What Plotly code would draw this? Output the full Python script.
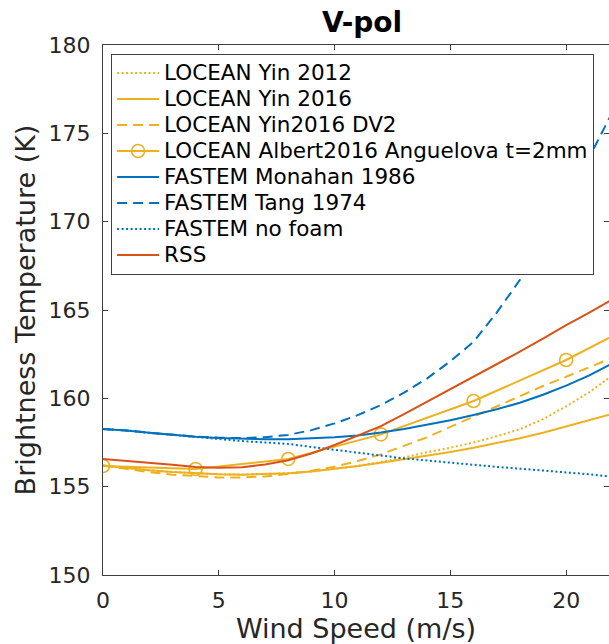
import plotly.graph_objects as go

# ---------------- data ----------------
wind = list(range(0, 23))  # m/s

yin2012 = [156.20, 156.05, 155.93, 155.83, 155.75, 155.70, 155.68, 155.70, 155.76, 155.86,
           156.00, 156.17, 156.40, 156.65, 156.95, 157.20, 157.50, 157.85, 158.25, 158.82,
           159.55, 160.35, 161.30]
yin2016 = [156.20, 156.05, 155.93, 155.83, 155.75, 155.70, 155.68, 155.70, 155.76, 155.86,
           156.00, 156.17, 156.36, 156.55, 156.74, 156.96, 157.20, 157.46, 157.74, 158.05,
           158.40, 158.75, 159.12]
yin2016_dv2 = [156.20, 156.00, 155.82, 155.68, 155.58, 155.52, 155.52, 155.58, 155.72, 155.90,
               156.13, 156.45, 156.83, 157.30, 157.80, 158.38, 158.96, 159.55, 160.15, 160.70,
               161.22, 161.75, 162.30]
albert_wind = [0, 4, 8, 12, 16, 20, 24]
albert2016 = [156.17, 156.00, 156.57, 157.96, 159.85, 162.17, 164.89]
monahan1986 = [158.26, 158.18, 158.05, 157.93, 157.83, 157.76, 157.71, 157.68, 157.68, 157.72,
               157.80, 157.90, 158.06, 158.27, 158.50, 158.76, 159.06, 159.38, 159.75, 160.20,
               160.72, 161.30, 161.98]
tang1974 = [158.26, 158.18, 158.05, 157.93, 157.83, 157.77, 157.75, 157.80, 157.93, 158.20,
            158.58, 159.05, 159.62, 160.32, 161.13, 162.10, 163.20, 164.85, 166.70, 168.85,
            171.20, 173.65, 176.20]
no_foam = [158.26, 158.18, 158.05, 157.92, 157.80, 157.70, 157.58, 157.50, 157.42, 157.25,
           157.08, 156.90, 156.74, 156.60, 156.48, 156.35, 156.23, 156.12, 156.02, 155.92,
           155.83, 155.70, 155.56]
rss = [156.57, 156.47, 156.36, 156.24, 156.12, 156.07, 156.10, 156.25, 156.50, 156.88,
       157.36, 157.88, 158.43, 159.10, 159.80, 160.50, 161.23, 161.93, 162.64, 163.38,
       164.15, 164.85, 165.60]

series_names = ["LOCEAN Yin 2012", "LOCEAN Yin 2016", "LOCEAN Yin2016 DV2",
                "LOCEAN Albert2016 Anguelova t=2mm", "FASTEM Monahan 1986",
                "FASTEM Tang 1974", "FASTEM no foam", "RSS"]

x_ticks = [0, 5, 10, 15, 20]
y_ticks = [150, 155, 160, 165, 170, 175, 180]

# ---------------- styles ----------------
BLUE = "#0072BD"
RED = "#D95319"
YEL = "#EDB120"
AX = "#404040"
FONT = "DejaVu Sans"
LW = 2
DASH = "10px,6px"
DOT = "2px,2.5px"

fig = go.Figure()

def add(x, y, name, color, dash="solid", marker=None):
    label = '<span style="font-size:21.5px">' + name + "</span>"
    kw = dict(x=x, y=y, name=label, line=dict(color=color, width=LW, dash=dash))
    if marker:
        kw["mode"] = "lines+markers"
        kw["marker"] = marker
    else:
        kw["mode"] = "lines"
    fig.add_trace(go.Scatter(**kw))

add(wind, yin2012, series_names[0], YEL, DOT)
add(wind, yin2016, series_names[1], YEL)
add(wind, yin2016_dv2, series_names[2], YEL, DASH)
add(albert_wind, albert2016, series_names[3], YEL,
    marker=dict(symbol="circle-open", size=13, color=YEL, line=dict(width=1.6, color=YEL)))
add(wind, monahan1986, series_names[4], BLUE)
add(wind, tang1974, series_names[5], BLUE, DASH)
add(wind, no_foam, series_names[6], BLUE, DOT)
add(wind, rss, series_names[7], RED)

axis_common = dict(
    showgrid=False, zeroline=False, showline=True, linecolor=AX, linewidth=1,
    mirror="allticks", ticks="inside", ticklen=5, tickcolor=AX, tickwidth=1,
    tickfont=dict(family=FONT, size=22, color="#262626"),
)

fig.update_layout(
    width=609, height=644,
    margin=dict(l=103, r=0, t=45, b=69),
    paper_bgcolor="white", plot_bgcolor="white",
    font=dict(family=FONT, color="#262626"),
    title=dict(text="<b>V-pol</b>", font=dict(family=FONT, size=28, color="black"),
               x=0.512, xref="paper", xanchor="center",
               y=1 - 22 / 644, yref="container", yanchor="middle"),
    xaxis=dict(range=[0, 21.85], tickvals=x_ticks, ticklabelstandoff=6,
               title=dict(text="Wind Speed (m/s)", font=dict(family=FONT, size=27, color="#262626"),
                          standoff=4),
               **axis_common),
    yaxis=dict(range=[150, 180], tickvals=y_ticks, ticklabelstandoff=7,
               title=dict(text="Brightness Temperature (K)", font=dict(family=FONT, size=27, color="#262626"),
                          standoff=5),
               **axis_common),
    showlegend=True,
    legend=dict(x=0.016, y=0.983, xanchor="left", yanchor="top",
                bgcolor="white", bordercolor=AX, borderwidth=1,
                font=dict(family=FONT, size=17.7, color="black"),
                itemwidth=42, tracegroupgap=0),
)

fig.write_html("out.html")
